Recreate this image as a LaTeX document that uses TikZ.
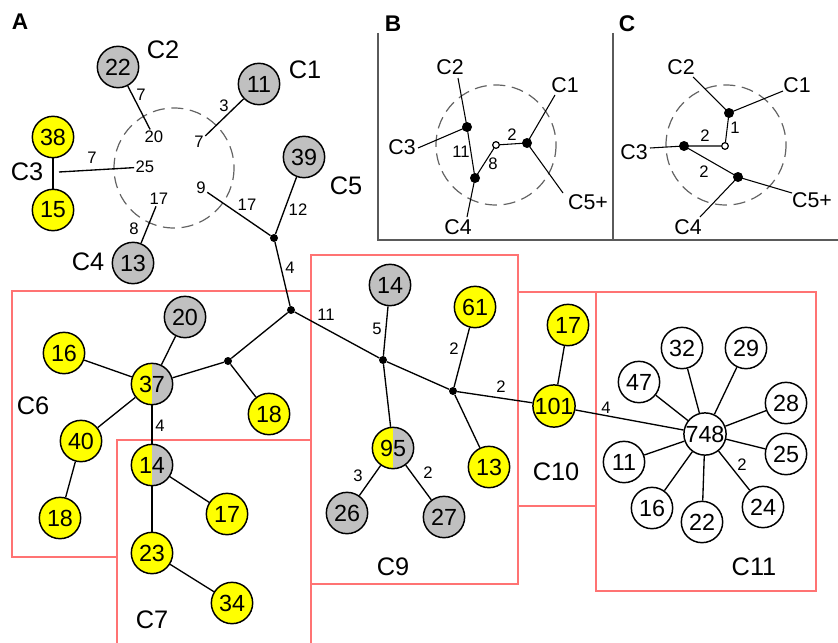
\documentclass[tikz,border=0pt]{standalone}
\usepackage{fontspec}
\setmainfont{Liberation Sans}
\definecolor{nyel}{RGB}{255,255,0}
\definecolor{ngry}{RGB}{192,192,192}
\definecolor{boxred}{RGB}{255,115,115}
\definecolor{frame}{RGB}{90,90,90}
\definecolor{dash}{RGB}{100,100,100}
\tikzset{
  num/.style={circle,draw=black,line width=1.1pt,minimum size=31pt,inner sep=0pt,font=\fontsize{17.5}{17.5}\selectfont},
  yel/.style={num,fill=nyel},
  gry/.style={num,fill=ngry},
  wht/.style={num,fill=white},
  half/.style={num,path picture={
     \fill[nyel] (path picture bounding box.south west) rectangle (path picture bounding box.north);
     \fill[ngry] (path picture bounding box.south) rectangle (path picture bounding box.north east);}},
  jdot/.style={circle,fill=black,minimum size=6pt,inner sep=0pt},
  bdot/.style={circle,fill=black,minimum size=7.5pt,inner sep=0pt},
  odot/.style={circle,draw=black,fill=white,line width=0.9pt,minimum size=5pt,inner sep=0pt},
  elab/.style={inner sep=1pt,font=\fontsize{12.5}{12.5}\selectfont},
  clab/.style={inner sep=1pt,font=\fontsize{19}{19}\selectfont},
  blab/.style={inner sep=1pt,font=\fontsize{16}{16}\selectfont},
  plab/.style={inner sep=0pt,font=\fontsize{17}{17}\selectfont\bfseries},
  edge/.style={line width=1pt,black},
  redbox/.style={draw=boxred,line width=0.9pt},
  dcirc/.style={draw=dash,line width=0.9pt,dash pattern=on 9pt off 5pt},
  framel/.style={draw=frame,line width=1.1pt}
}
\begin{document}
\begin{tikzpicture}[x=0.75pt,y=-0.75pt]
\useasboundingbox (0,0) rectangle (838,642);
\fill[white] (0,0) rectangle (838,642);
% red boxes
\draw[redbox] (117,557) -- (12,557) -- (12,291) -- (311,291);
\draw[redbox] (117,645) -- (117,440) -- (311,440);
\draw[redbox] (311,645) -- (311,255) -- (518,255) -- (518,584) -- (311,584);
\draw[redbox] (518,292) rectangle (596,506);
\draw[redbox] (596,292) rectangle (816,591);
% panel frames
\draw[framel] (378,33) -- (378,240) -- (838,240);
\draw[framel] (613,33) -- (613,240);
% panel letters
\node[plab] (pA) at (20,22) {A};
\node[plab] (pB) at (393,24) {B};
\node[plab] (pC) at (627,24) {C};
% ---------------- Panel A upper cluster
\draw[dcirc] (174,168) circle [radius=60];
\node[gry] (c22) at (118,67) {22};
\node[clab] (lC2) at (163,50) {C2};
\node[gry] (c11a) at (259,84) {11};
\node[clab] (lC1) at (305,70) {C1};
\node[yel] (c38) at (53,137) {38};
\node[yel] (c15) at (53,210) {15};
\node[clab] (lC3) at (27,172) {C3};
\node[gry] (c13a) at (133,263) {13};
\node[clab] (lC4) at (88,262) {C4};
\node[gry] (c39) at (304,157) {39};
\node[clab] (lC5) at (346,186) {C5};
\node[elab] (n20) at (154,137) {20};
\node[elab] (n7b) at (199,142) {7};
\node[elab] (n25) at (145,167) {25};
\node[elab] (n17a) at (159,199) {17};
\node[elab] (n9) at (201,188) {9};
\node[elab] (m7a) at (141,95) {7};
\node[elab] (m3) at (224,106) {3};
\node[elab] (m7c) at (92,158) {7};
\node[elab] (m8) at (134,229) {8};
\node[elab] (m17b) at (247,205) {17};
\node[elab] (m12) at (298,210) {12};
\node[elab] (m4a) at (290,268) {4};
\coordinate (c3s) at (59,172);
\node[jdot] (J1) at (274,238) {};
\node[jdot] (J2) at (291,310) {};
\node[jdot] (J3) at (383,360) {};
\node[jdot] (J4) at (453,391) {};
\node[jdot] (J5) at (228,361) {};
\draw[edge] (c22) -- (n20);
\draw[edge] (c11a) -- (n7b);
\draw[edge] (c38) -- (c15);
\draw[edge] (c3s) -- (n25);
\draw[edge] (c13a) -- (n17a);
\draw[edge] (n9) -- (J1);
\draw[edge] (J1) -- (c39);
\draw[edge] (J1) -- (J2);
% ---------------- C6 / C7
\node[gry] (c20) at (185,317) {20};
\node[yel] (c16) at (64,353) {16};
\node[half] (c37) at (152,384) {37};
\node[yel] (c40) at (81,441) {40};
\node[yel] (c18a) at (60,518) {18};
\node[yel] (c18b) at (269,414) {18};
\node[half] (c14a) at (152,465) {14};
\node[yel] (c17a) at (227,514) {17};
\node[yel] (c23) at (152,553) {23};
\node[yel] (c34) at (232,603) {34};
\node[elab] (m4c) at (160,426) {4};
\node[clab] (lC6) at (33,406) {C6};
\node[clab] (lC7) at (152,620) {C7};
\draw[edge] (J2) -- (J5);
\draw[edge] (J5) -- (c37);
\draw[edge] (J5) -- (c18b);
\draw[edge] (c37) -- (c20);
\draw[edge] (c37) -- (c16);
\draw[edge] (c37) -- (c40);
\draw[edge] (c40) -- (c18a);
\draw[edge] (c37) -- (c14a);
\draw[edge] (c14a) -- (c17a);
\draw[edge] (c14a) -- (c23);
\draw[edge] (c23) -- (c34);
% ---------------- C9 / C10
\node[gry] (c14b) at (390,285) {14};
\node[half] (c95) at (393,448) {95};
\node[gry] (c26) at (347,513) {26};
\node[gry] (c27) at (444,517) {27};
\node[yel] (c61) at (475,307) {61};
\node[yel] (c13b) at (489,467) {13};
\node[yel] (c101) at (554,406) {101};
\node[yel] (c17b) at (568,325) {17};
\node[elab] (m11) at (326,315) {11};
\node[elab] (m5) at (377,329) {5};
\node[elab] (m3b) at (358,476) {3};
\node[elab] (m2a) at (428,473) {2};
\node[elab] (m2b) at (454,349) {2};
\node[elab] (m2c) at (501,387) {2};
\node[clab] (lC9) at (393,567) {C9};
\node[clab] (lC10) at (556,472) {C10};
\draw[edge] (J2) -- (J3);
\draw[edge] (J3) -- (c14b);
\draw[edge] (J3) -- (c95);
\draw[edge] (c95) -- (c26);
\draw[edge] (c95) -- (c27);
\draw[edge] (J3) -- (J4);
\draw[edge] (J4) -- (c61);
\draw[edge] (J4) -- (c13b);
\draw[edge] (J4) -- (c101);
\draw[edge] (c101) -- (c17b);
% ---------------- C11
\node[wht] (c748) at (705,434) {748};
\node[wht] (s32) at (682,348) {32};
\node[wht] (s29) at (746,348) {29};
\node[wht] (s47) at (639,382) {47};
\node[wht] (s28) at (786,403) {28};
\node[wht] (s25) at (786,454) {25};
\node[wht] (s11) at (624,462) {11};
\node[wht] (s16) at (652,508) {16};
\node[wht] (s22) at (702,522) {22};
\node[wht] (s24) at (763,507) {24};
\node[elab] (m4b) at (606,408) {4};
\node[elab] (m2d) at (742,465) {2};
\node[clab] (lC11) at (754,567) {C11};
\draw[edge] (c101) -- (c748);
\foreach \s in {s32,s29,s47,s28,s25,s11,s16,s22,s24} {\draw[edge] (c748) -- (\s);}
% ---------------- Panel B
\draw[dcirc] (496,145) circle [radius=60];
\node[bdot] (b1) at (467,127) {};
\node[bdot] (b2) at (475,178) {};
\node[odot] (b0) at (496,145) {};
\node[bdot] (b3) at (527,143) {};
\node[blab] (bC2) at (450,67) {C2};
\node[blab] (bC1) at (565,85) {C1};
\node[blab] (bC3) at (402,147) {C3};
\node[blab] (bC4) at (458,227) {C4};
\node[blab] (bC5) at (588,202) {C5+};
\coordinate (be2) at (458,78);
\coordinate (be3) at (418,148);
\coordinate (be4) at (467,217);
\coordinate (be1) at (555,95);
\coordinate (be5) at (563,193);
\node[elab] (bn11) at (461,152) {11};
\node[elab] (bn8) at (493,164) {8};
\node[elab] (bn2) at (512,135) {2};
\draw[edge,line width=0.8pt] (be2) -- (b1.center) -- (b2.center) -- (be4);
\draw[edge,line width=0.8pt] (b1.center) -- (be3);
\draw[edge,line width=0.8pt] (b2.center) -- (b0);
\draw[edge,line width=0.8pt] (b0) -- (b3.center);
\draw[edge,line width=0.8pt] (be1) -- (b3.center) -- (be5);
% ---------------- Panel C
\draw[dcirc] (726,145) circle [radius=60];
\node[bdot] (q1) at (729,113) {};
\node[odot] (q0) at (725,146) {};
\node[bdot] (q2) at (684,146) {};
\node[bdot] (q3) at (738,177) {};
\node[blab] (qC2) at (681,67) {C2};
\node[blab] (qC1) at (797,85) {C1};
\node[blab] (qC3) at (634,152) {C3};
\node[blab] (qC4) at (688,227) {C4};
\node[blab] (qC5) at (812,200) {C5+};
\coordinate (qe2) at (693,77);
\coordinate (qe1) at (783,91);
\coordinate (qe3) at (650,148);
\coordinate (qe5) at (792,193);
\coordinate (qe4) at (700,217);
\node[elab] (qn1) at (735,128) {1};
\node[elab] (qn2) at (705,136) {2};
\node[elab] (qn2b) at (704,172) {2};
\draw[edge,line width=0.8pt] (qe2) -- (q1.center) -- (qe1);
\draw[edge,line width=0.8pt] (q1.center) -- (q0);
\draw[edge,line width=0.8pt] (q0) -- (q2.center) -- (qe3);
\draw[edge,line width=0.8pt] (q2.center) -- (q3.center) -- (qe5);
\draw[edge,line width=0.8pt] (q3.center) -- (qe4);
\end{tikzpicture}
\end{document}
